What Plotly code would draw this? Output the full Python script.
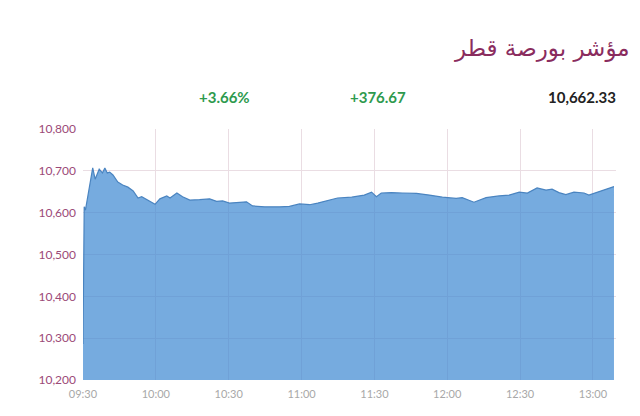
import plotly.graph_objects as go

day = "2024-01-01 "
times = ["09:30:00", "09:30:30", "09:31:00", "09:34:00", "09:35:00", "09:36:40", "09:38:00",
         "09:39:00", "09:40:00", "09:41:00", "09:42:20", "09:44:20", "09:46:20", "09:48:30",
         "09:50:40", "09:52:40", "09:54:10", "09:56:40", "09:59:40", "10:01:40", "10:04:30",
         "10:05:50", "10:08:40", "10:11:00", "10:14:00", "10:18:00", "10:22:10", "10:25:00",
         "10:27:30", "10:30:20", "10:34:30", "10:37:20", "10:39:50", "10:44:50", "10:51:00",
         "10:55:00", "10:59:10", "11:03:20", "11:06:40", "11:10:40", "11:14:50", "11:20:40",
         "11:25:50", "11:28:50", "11:30:50", "11:32:50", "11:37:00", "11:41:30", "11:47:20",
         "11:52:40", "11:58:00", "12:03:40", "12:06:10", "12:11:00", "12:16:00", "12:21:20",
         "12:25:30", "12:29:40", "12:33:00", "12:37:00", "12:40:40", "12:43:10", "12:46:00",
         "12:48:50", "12:52:10", "12:56:20", "12:58:20", "13:08:40"]
values = [10286, 10614, 10606, 10707, 10680, 10704, 10695,
          10707, 10695, 10697, 10690, 10673, 10666, 10661,
          10652, 10635, 10638, 10630, 10620, 10633, 10640,
          10635, 10647, 10638, 10630, 10631, 10633, 10627,
          10628, 10623, 10624, 10626, 10616, 10614, 10614,
          10615, 10621, 10619, 10623, 10628, 10635, 10637,
          10642, 10649, 10638, 10647, 10648, 10647, 10646,
          10642, 10637, 10634, 10636, 10625, 10636, 10640,
          10642, 10649, 10647, 10659, 10654, 10656, 10648,
          10643, 10649, 10647, 10642, 10662.33]

title_text = "مؤشر بورصة قطر"
pct_change = "+3.66%"
pt_change = "+376.67"
last_value = "10,662.33"

y_ticks = [10200, 10300, 10400, 10500, 10600, 10700, 10800]
y_tick_labels = ["10,200", "10,300", "10,400", "10,500", "10,600", "10,700", "10,800"]
x_ticks = ["09:30", "10:00", "10:30", "11:00", "11:30", "12:00", "12:30", "13:00"]

fig = go.Figure()
fig.add_trace(go.Scatter(
    x=[day + t for t in times], y=values, mode="lines",
    line=dict(color="#4a84c0", width=1.2),
    fill="tozeroy", fillcolor="rgba(60,135,210,0.7)",
    hoverinfo="skip", showlegend=False,
))

grid_c = "#eadde3"
fig.update_layout(
    width=632, height=408,
    margin=dict(l=75, r=24, t=121, b=36),
    paper_bgcolor="white", plot_bgcolor="white",
    font=dict(family="Lato, Noto Sans, sans-serif"),
    xaxis=dict(
        type="date",
        range=[day + "09:30:00", day + "13:09:30"],
        tickvals=[day + t + ":00" for t in x_ticks],
        ticktext=x_ticks,
        tickfont=dict(color="#a8a8a8", size=11),
        showgrid=True, gridcolor=grid_c, gridwidth=1,
        zeroline=False, showline=False, ticks="",
        ticklabelstandoff=6,
        layer="below traces",
    ),
    yaxis=dict(
        range=[10200, 10800],
        tickvals=y_ticks, ticktext=y_tick_labels,
        tickfont=dict(color="#9c4a78", size=12),
        showgrid=True, gridcolor=grid_c, gridwidth=1,
        zeroline=False, showline=False, ticks="",
        ticklabelstandoff=6,
    ),
    annotations=[
        dict(text=title_text, xref="paper", yref="paper", x=1.03, y=1.32,
             xanchor="right", yanchor="middle", showarrow=False,
             font=dict(size=23, color="#8a2c5e", family="DejaVu Sans, Noto Sans, sans-serif")),
        dict(text="<b>" + pct_change + "</b>", xref="paper", yref="paper", x=0.2664, y=1.1275,
             xanchor="center", yanchor="middle", showarrow=False,
             font=dict(size=15, color="#2e9a4e")),
        dict(text="<b>" + pt_change + "</b>", xref="paper", yref="paper", x=0.5535, y=1.1275,
             xanchor="center", yanchor="middle", showarrow=False,
             font=dict(size=15, color="#2e9a4e")),
        dict(text="<b>" + last_value + "</b>", xref="paper", yref="paper", x=1.004, y=1.1275,
             xanchor="right", yanchor="middle", showarrow=False,
             font=dict(size=15, color="#222222")),
    ],
)

fig.write_html("out.html")
